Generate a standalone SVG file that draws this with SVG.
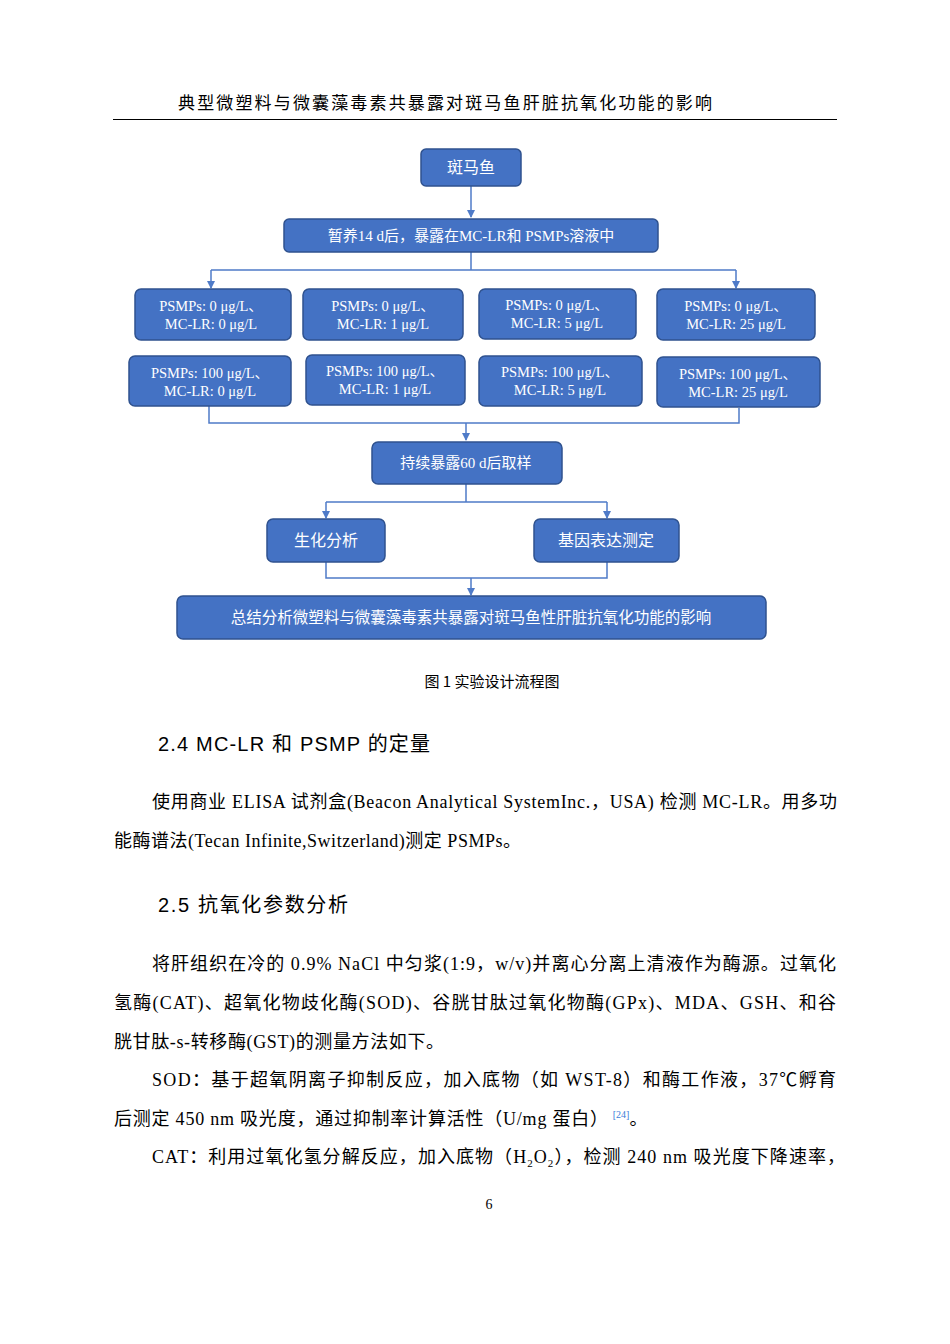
<svg xmlns="http://www.w3.org/2000/svg" width="950" height="1344" viewBox="0 0 950 1344">
<style>
.n{fill:#4472C4;stroke:#2F528F;stroke-width:1.5}
.t{fill:#fff;font-family:"Liberation Serif","Noto Sans CJK SC",serif;font-size:14.5px;text-anchor:middle}
.c{fill:none;stroke:#4F7BC8;stroke-width:1.5}
.p{font-family:"Liberation Serif","Noto Sans CJK SC",serif;font-size:18px;fill:#000}
.h{font-family:"Liberation Sans","Noto Sans CJK SC",sans-serif;font-size:20px;fill:#000}
</style>
<defs><marker id="a" markerWidth="8" markerHeight="8" refX="7" refY="4" orient="auto" markerUnits="userSpaceOnUse"><path d="M0,0L8,4L0,8z" fill="#4F7BC8"/></marker></defs>
<rect width="950" height="1344" fill="#fff"/>
<text class="p" x="178" y="109" style="font-size:17px" textLength="534" lengthAdjust="spacing">典型微塑料与微囊藻毒素共暴露对斑马鱼肝脏抗氧化功能的影响</text>
<line x1="113" y1="119.5" x2="837" y2="119.5" stroke="#000" stroke-width="1"/>
<g id="connectors">
<path class="c" d="M471,186V217" marker-end="url(#a)"/>
<path class="c" d="M471,252V270M211,270H736"/>
<path class="c" d="M211,270V288" marker-end="url(#a)"/>
<path class="c" d="M736,270V288" marker-end="url(#a)"/>
<path class="c" d="M209,406V423H739V408"/>
<path class="c" d="M466,423V440" marker-end="url(#a)"/>
<path class="c" d="M466,484V502H607M326,502H466"/>
<path class="c" d="M326,502V518" marker-end="url(#a)"/>
<path class="c" d="M607,502V518" marker-end="url(#a)"/>
<path class="c" d="M326,562V578H607V562M471,578V595" marker-end="url(#a)"/>
</g>
<g id="n1"><rect class="n" x="421" y="149" width="100" height="37" rx="5"/><text class="t" x="471" y="173" style="font-size:16px">斑马鱼</text></g>
<g id="n2"><rect class="n" x="284" y="219" width="374" height="33" rx="5"/><text class="t" x="471" y="241" style="font-size:15px">暂养14 d后，暴露在MC-LR和 PSMPs溶液中</text></g>
<g id="r1a"><rect class="n" x="135" y="289" width="156" height="51" rx="6"/><text class="t" x="211" y="311">PSMPs:  0 μg/L、</text><text class="t" x="211" y="329">MC-LR:  0 μg/L</text></g>
<g id="r1b"><rect class="n" x="303" y="289" width="160" height="51" rx="6"/><text class="t" x="383" y="311">PSMPs:  0 μg/L、</text><text class="t" x="383" y="329">MC-LR:  1 μg/L</text></g>
<g id="r1c"><rect class="n" x="479" y="289" width="157" height="50" rx="6"/><text class="t" x="557" y="310">PSMPs:  0 μg/L、</text><text class="t" x="557" y="328">MC-LR:  5 μg/L</text></g>
<g id="r1d"><rect class="n" x="657" y="289" width="158" height="51" rx="6"/><text class="t" x="736" y="311">PSMPs:  0 μg/L、</text><text class="t" x="736" y="329">MC-LR:  25 μg/L</text></g>
<g id="r2a"><rect class="n" x="129" y="356" width="162" height="50" rx="6"/><text class="t" x="210" y="378">PSMPs:  100 μg/L、</text><text class="t" x="210" y="396">MC-LR:  0 μg/L</text></g>
<g id="r2b"><rect class="n" x="306" y="355" width="159" height="50" rx="6"/><text class="t" x="385" y="376">PSMPs:  100 μg/L、</text><text class="t" x="385" y="394">MC-LR:  1 μg/L</text></g>
<g id="r2c"><rect class="n" x="479" y="356" width="163" height="50" rx="6"/><text class="t" x="560" y="377">PSMPs:  100 μg/L、</text><text class="t" x="560" y="395">MC-LR:  5 μg/L</text></g>
<g id="r2d"><rect class="n" x="657" y="357" width="163" height="50" rx="6"/><text class="t" x="738" y="379">PSMPs:  100 μg/L、</text><text class="t" x="738" y="397">MC-LR:  25 μg/L</text></g>
<g id="n3"><rect class="n" x="372" y="442" width="190" height="42" rx="6"/><text class="t" x="466" y="468" style="font-size:15px">持续暴露60 d后取样</text></g>
<g id="n4"><rect class="n" x="267" y="519" width="118" height="43" rx="6"/><text class="t" x="326" y="546" style="font-size:16px">生化分析</text></g>
<g id="n5"><rect class="n" x="534" y="519" width="145" height="43" rx="6"/><text class="t" x="606" y="546" style="font-size:16px">基因表达测定</text></g>
<g id="n6"><rect class="n" x="177" y="596" width="589" height="43" rx="6"/><text class="t" x="471" y="623" style="font-size:15.5px">总结分析微塑料与微囊藻毒素共暴露对斑马鱼性肝脏抗氧化功能的影响</text></g>
<text x="492" y="687" text-anchor="middle" style="font-family:'Noto Sans CJK SC',sans-serif;font-size:15px">图 1 实验设计流程图</text>
<text class="h" x="158" y="751" textLength="272" lengthAdjust="spacing">2.4 MC-LR 和  PSMP 的定量</text>
<text class="p" x="152" y="808" textLength="685" lengthAdjust="spacing">使用商业  ELISA 试剂盒(Beacon Analytical SystemInc.，USA) 检测  MC-LR。用多功</text>
<text class="p" x="114" y="847" textLength="407" lengthAdjust="spacing">能酶谱法(Tecan Infinite,Switzerland)测定  PSMPs。</text>
<text class="h" x="158" y="912" textLength="190" lengthAdjust="spacing">2.5 抗氧化参数分析</text>
<text class="p" x="152" y="970" textLength="684" lengthAdjust="spacing">将肝组织在冷的  0.9% NaCl 中匀浆(1:9，w/v)并离心分离上清液作为酶源。过氧化</text>
<text class="p" x="114" y="1009" textLength="722" lengthAdjust="spacing">氢酶(CAT)、超氧化物歧化酶(SOD)、谷胱甘肽过氧化物酶(GPx)、MDA、GSH、和谷</text>
<text class="p" x="114" y="1048" textLength="330" lengthAdjust="spacing">胱甘肽-s-转移酶(GST)的测量方法如下。</text>
<text class="p" x="152" y="1086" textLength="684" lengthAdjust="spacing">SOD：基于超氧阴离子抑制反应，加入底物（如 WST-8）和酶工作液，37℃孵育</text>
<text class="p" x="114" y="1125"><tspan textLength="494" lengthAdjust="spacing">后测定 450 nm 吸光度，通过抑制率计算活性（U/mg 蛋白）</tspan><tspan fill="#3b7dd8" font-size="10" dx="4" dy="-7">[24]</tspan><tspan dy="7">。</tspan></text>
<text class="p" x="152" y="1163" textLength="693" lengthAdjust="spacing">CAT：利用过氧化氢分解反应，加入底物（H<tspan font-size="11" dy="4">2</tspan><tspan dy="-4">O</tspan><tspan font-size="11" dy="4">2</tspan><tspan dy="-4">），检测 240 nm 吸光度下降速率，</tspan></text>
<text x="489" y="1209" text-anchor="middle" style="font-family:'Liberation Serif',serif;font-size:14px">6</text>
</svg>
